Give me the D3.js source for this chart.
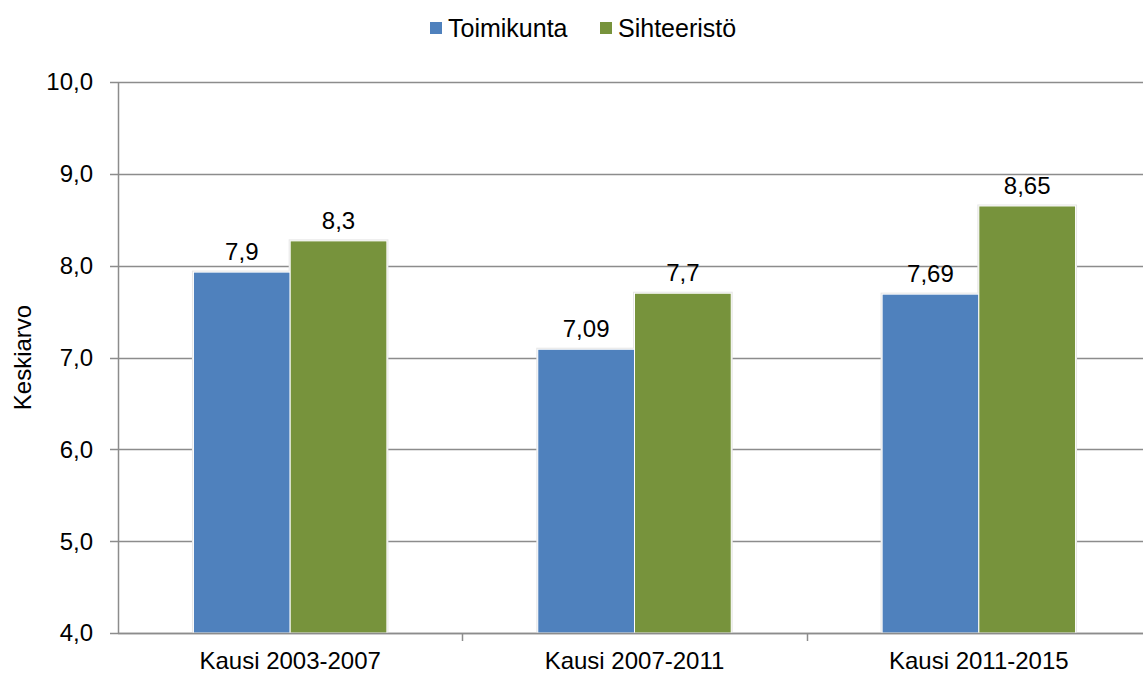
<!DOCTYPE html>
<html>
<head>
<meta charset="utf-8">
<script src="https://cdn.jsdelivr.net/npm/d3@7"></script>
<style>
  body { margin: 0; background: #fff; }
  text { font-family: "Liberation Sans", Arial, sans-serif; fill: #000; }
</style>
</head>
<body>
<script>
// chart data
var categories = ["Kausi 2003-2007", "Kausi 2007-2011", "Kausi 2011-2015"];
var seriesNames = ["Toimikunta", "Sihteeristö"];
var toimikunta = [7.93, 7.09, 7.69];
var sihteeristo = [8.27, 7.70, 8.65];
var toimikuntaLabels = ["7,9", "7,09", "7,69"];
var sihteeristoLabels = ["8,3", "7,7", "8,65"];
var yTicks = [4, 5, 6, 7, 8, 9, 10];
var colors = ["#4F81BD", "#77933C"];

var width = 1143, height = 678;
var margin = {top: 82, right: -8, bottom: 45, left: 118};

function translate(a, b) {
    return "translate(" + a + "," + b + ")";
}

var svg = d3.select("body").append("svg")
    .attr("width", width)
    .attr("height", height);

var y = d3.scaleLinear()
    .domain([4, 10])
    .range([height - margin.bottom, margin.top]);

var x = d3.scaleBand()
    .domain(categories)
    .range([margin.left, width - margin.right])
    .paddingInner(0)
    .paddingOuter(0);

var x1 = d3.scaleBand()
    .domain(seriesNames)
    .range([0, x.bandwidth()])
    .paddingInner(0)
    .paddingOuter(0.78);

// gridlines
svg.append("g")
    .selectAll("line")
    .data(yTicks)
    .enter()
    .append("line")
    .attr("x1", margin.left - 8)
    .attr("x2", width)
    .attr("y1", function(d) { return Math.round(y(d)) + 0.5; })
    .attr("y2", function(d) { return Math.round(y(d)) + 0.5; })
    .attr("stroke", "#8c8c8c")
    .attr("stroke-width", 1.5);

// y tick labels
svg.append("g")
    .selectAll("text")
    .data(yTicks)
    .enter()
    .append("text")
    .attr("x", margin.left - 25)
    .attr("y", function(d) { return y(d); })
    .attr("dy", "0.35em")
    .attr("text-anchor", "end")
    .style("font-size", "24px")
    .text(function(d) { return d3.format(".1f")(d).replace(".", ","); });

// y axis line
svg.append("line")
    .attr("x1", margin.left + 0.5)
    .attr("x2", margin.left + 0.5)
    .attr("y1", y(10))
    .attr("y2", y(4))
    .attr("stroke", "#8c8c8c")
    .attr("stroke-width", 1.5);

// y axis title
svg.append("text")
    .attr("transform", translate(31, (y(4) + y(10)) / 2) + " rotate(-90)")
    .attr("text-anchor", "middle")
    .style("font-size", "24px")
    .text("Keskiarvo");

// bars
var data = categories.map(function(c, i) {
    return [
        {cat: c, name: seriesNames[0], value: toimikunta[i], label: toimikuntaLabels[i], color: colors[0]},
        {cat: c, name: seriesNames[1], value: sihteeristo[i], label: sihteeristoLabels[i], color: colors[1]}
    ];
});

var groups = svg.append("g")
    .selectAll("g")
    .data(data)
    .enter()
    .append("g")
    .attr("transform", function(d) { return translate(x(d[0].cat), 0); });

// soft shadow behind bars
groups.selectAll("rect.shadow")
    .data(function(d) { return d; })
    .enter()
    .append("rect")
    .attr("class", "shadow")
    .attr("x", function(d) { return x1(d.name) - 1.5; })
    .attr("y", function(d) { return y(d.value) - 1.5; })
    .attr("width", x1.bandwidth() + 3)
    .attr("height", function(d) { return y(4) - y(d.value) + 1.5; })
    .attr("fill", "#e6e6e6");

groups.selectAll("rect.bar")
    .data(function(d) { return d; })
    .enter()
    .append("rect")
    .attr("class", "bar")
    .attr("x", function(d) { return x1(d.name); })
    .attr("y", function(d) { return y(d.value); })
    .attr("width", x1.bandwidth())
    .attr("height", function(d) { return y(4) - y(d.value); })
    .attr("fill", function(d) { return d.color; })
    .attr("stroke", "#fff")
    .attr("stroke-width", 1);

groups.selectAll("text")
    .data(function(d) { return d; })
    .enter()
    .append("text")
    .attr("x", function(d) { return x1(d.name) + x1.bandwidth() / 2; })
    .attr("y", function(d) { return y(d.value) - 12; })
    .attr("text-anchor", "middle")
    .style("font-size", "24px")
    .text(function(d) { return d.label; });

// x axis line
svg.append("line")
    .attr("x1", margin.left)
    .attr("x2", width)
    .attr("y1", y(4) + 0.5)
    .attr("y2", y(4) + 0.5)
    .attr("stroke", "#8c8c8c")
    .attr("stroke-width", 1.5);

// category ticks
svg.append("g")
    .selectAll("line")
    .data(categories.slice(1))
    .enter()
    .append("line")
    .attr("x1", function(d) { return Math.round(x(d)) + 0.5; })
    .attr("x2", function(d) { return Math.round(x(d)) + 0.5; })
    .attr("y1", y(4))
    .attr("y2", y(4) + 8)
    .attr("stroke", "#8c8c8c")
    .attr("stroke-width", 1.5);

svg.append("g")
    .selectAll("text")
    .data(categories)
    .enter()
    .append("text")
    .attr("x", function(d) { return x(d) + x.bandwidth() / 2; })
    .attr("y", y(4) + 36)
    .attr("text-anchor", "middle")
    .style("font-size", "24px")
    .text(function(d) { return d; });

// legend
var legendX = [430, 600];
var legend = svg.append("g")
    .selectAll("g")
    .data(seriesNames)
    .enter()
    .append("g")
    .attr("transform", function(d, i) { return translate(legendX[i], 22); });

legend.append("rect")
    .attr("width", 12)
    .attr("height", 12)
    .attr("fill", function(d, i) { return colors[i]; });

legend.append("text")
    .attr("x", 18)
    .attr("y", 6)
    .attr("dy", "0.36em")
    .style("font-size", "25px")
    .text(function(d) { return d; });
</script>
</body>
</html>
